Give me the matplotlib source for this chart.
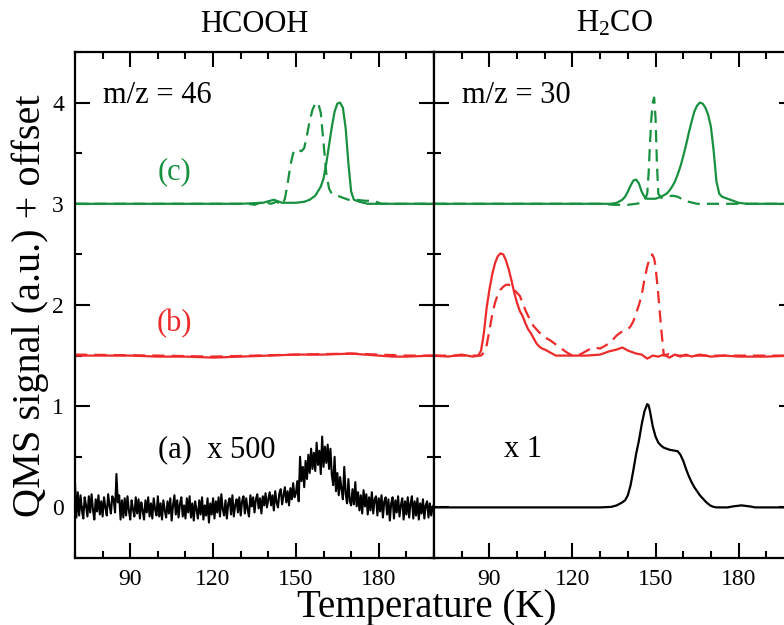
import numpy as np
import matplotlib
matplotlib.use("Agg")
import matplotlib.pyplot as plt
from matplotlib.ticker import MultipleLocator

plt.rcParams['font.family'] = ['Liberation Serif', 'DejaVu Serif']
plt.rcParams['mathtext.fontset'] = 'custom'
plt.rcParams['mathtext.rm'] = 'Liberation Serif'
plt.rcParams['mathtext.it'] = 'Liberation Serif:italic'

GREEN = '#17913f'
RED = '#ee2a2a'
BLACK = '#000000'

# ---------------- HCOOH panel (m/z = 46) ----------------
# (a) x500, sampled every 0.5 K from 70 to 200 K
hcooh_a_T0, hcooh_a_dT = 70.0, 0.5
hcooh_a = [
    0.24, -0.10, 0.15, -0.08, 0.12, -0.03, -0.11, 0.10, 0.02, -0.09, 0.11, -0.05, 0.13, -0.02, -0.12, 0.08, -0.04, 0.12, -0.07, 0.06,
    -0.09, 0.10, 0.00, -0.08, 0.13, 0.02, -0.06, 0.11, 0.08, -0.05, 0.33, 0.05, 0.12, -0.12, 0.07, -0.10, 0.09, -0.08, 0.11, -0.03,
    -0.12, 0.07, -0.02, -0.09, 0.10, -0.06, 0.08, -0.11, 0.05, -0.03, -0.12, 0.07, -0.05, 0.10, -0.09, 0.04, -0.11, 0.09, -0.02, -0.08,
    0.11, -0.09, 0.04, -0.12, 0.07, -0.03, -0.10, 0.06, -0.06, 0.09, -0.13, 0.02, 0.12, -0.07, 0.07, -0.10, 0.03, 0.10, -0.09, 0.02,
    -0.11, 0.09, -0.05, 0.11, -0.10, 0.04, -0.13, 0.06, -0.02, -0.11, 0.07, -0.07, 0.10, -0.12, 0.02, -0.08, 0.09, -0.15, 0.04, -0.07,
    0.09, -0.11, 0.06, -0.05, 0.10, -0.09, 0.13, -0.02, -0.08, 0.07, -0.11, 0.04, 0.09, -0.07, 0.12, -0.09, 0.02, 0.08, -0.05, 0.10,
    -0.08, 0.06, 0.11, -0.06, 0.09, -0.02, -0.09, 0.12, 0.01, 0.10, -0.05, 0.08, 0.13, -0.01, 0.09, -0.06, 0.11, 0.02, 0.14, 0.00,
    0.08, 0.15, 0.02, 0.12, -0.03, 0.16, 0.05, 0.00, 0.14, 0.18, 0.03, 0.12, 0.20, 0.05, 0.16, 0.02, 0.19, 0.08, 0.24, 0.10,
    0.14, 0.26, 0.06, 0.50, 0.26, 0.40, 0.20, 0.46, 0.28, 0.52, 0.34, 0.58, 0.38, 0.54, 0.36, 0.64, 0.42, 0.56, 0.33, 0.70,
    0.40, 0.60, 0.44, 0.62, 0.38, 0.58, 0.32, 0.22, 0.50, 0.16, 0.34, 0.12, 0.30, 0.18, 0.08, 0.40, 0.14, 0.04, 0.28, 0.06,
    0.02, 0.18, 0.03, 0.25, 0.01, 0.15, -0.03, 0.12, -0.06, 0.17, 0.01, 0.13, -0.07, 0.10, -0.03, 0.15, -0.06, 0.08, 0.11, -0.08,
    0.09, -0.04, 0.12, -0.10, 0.06, 0.10, -0.07, 0.08, -0.13, 0.04, 0.10, -0.11, 0.07, -0.05, 0.11, -0.09, 0.02, 0.09, -0.12, 0.06,
    -0.07, 0.10, -0.10, 0.04, 0.11, -0.11, 0.06, -0.08, 0.09, -0.12, 0.04, -0.06, 0.08, -0.11, 0.02, 0.06, -0.10, 0.04, -0.08, 0.00,
    0.03,
]

hcooh_b_solid_T = [70, 90, 100, 110, 120, 130, 140, 150, 160, 170, 175, 180, 185, 190, 200]
hcooh_b_solid = [1.50, 1.50, 1.49, 1.49, 1.48, 1.49, 1.50, 1.51, 1.51, 1.52, 1.51, 1.50, 1.49, 1.49, 1.50]
hcooh_b_dash_T = [70, 100, 120, 150, 170, 190, 200]
hcooh_b_dash = [1.51, 1.50, 1.49, 1.51, 1.52, 1.50, 1.50]

hcooh_c_solid_T = [70, 130, 138, 142, 145, 150, 153, 155, 157, 159, 160, 161, 162, 163, 164, 165, 166, 167,
                   168, 169, 170, 171, 173, 176, 200]
hcooh_c_solid = [3.00, 3.00, 3.01, 3.04, 3.01, 3.01, 3.02, 3.04, 3.08, 3.17, 3.25, 3.40, 3.58, 3.76, 3.91, 3.99,
                 4.00, 3.95, 3.75, 3.40, 3.12, 3.04, 3.02, 3.00, 3.00]
hcooh_c_dash_T = [70, 130, 133, 135, 138, 141, 143, 145, 146, 147, 148, 149, 150, 151, 152, 153, 154, 155, 156,
                  157, 158, 159, 160, 161, 162, 163, 165, 167, 169, 172, 175, 178, 181, 200]
hcooh_c_dash = [3.00, 3.00, 3.00, 2.99, 3.02, 3.00, 3.02, 2.99, 3.05, 3.20, 3.38, 3.50, 3.54, 3.53, 3.52, 3.55,
                3.68, 3.82, 3.93, 3.99, 4.00, 3.90, 3.60, 3.30, 3.15, 3.10, 3.08, 3.06, 3.04, 3.04, 3.03, 3.03,
                3.00, 3.00]

# ---------------- H2CO panel (m/z = 30) ----------------
h2co_a_T = [70, 100, 130, 134, 136, 138, 139, 140, 141, 142, 143, 144, 145, 146, 147, 147.5, 148, 149, 150, 151,
            152, 153, 154, 155, 156, 157, 158, 159, 160, 161, 162, 163, 164, 165, 166, 167, 168, 169, 170, 171,
            172, 176, 178, 181, 184, 186, 200]
h2co_a = [0.0, 0.0, 0.0, 0.005, 0.02, 0.05, 0.07, 0.12, 0.22, 0.37, 0.53, 0.66, 0.82, 0.95, 1.02, 1.01, 0.95,
          0.80, 0.70, 0.64, 0.61, 0.59, 0.58, 0.57, 0.565, 0.56, 0.555, 0.52, 0.46, 0.38, 0.31, 0.25, 0.20, 0.16,
          0.12, 0.09, 0.06, 0.035, 0.015, 0.005, 0.0, 0.0, 0.01, 0.02, 0.01, 0.0, 0.0]

h2co_b_solid_T = [70, 75, 80, 84, 86, 87, 88, 89, 90, 91, 92, 93, 94, 95, 96, 97, 98, 99, 100, 101, 102, 103,
                  104, 105, 106, 107, 108, 109, 110, 112, 114, 120, 125, 130, 133, 136, 138, 140, 143, 145, 147,
                  149, 151, 153, 155, 157, 159, 161, 163, 166, 170, 175, 180, 190, 200]
h2co_b_solid = [1.50, 1.49, 1.51, 1.49, 1.50, 1.55, 1.72, 1.97, 2.15, 2.30, 2.41, 2.48, 2.51, 2.50, 2.44, 2.35,
                2.24, 2.12, 2.02, 1.94, 1.89, 1.82, 1.76, 1.72, 1.67, 1.62, 1.59, 1.57, 1.56, 1.53, 1.50, 1.50,
                1.50, 1.51, 1.54, 1.56, 1.58, 1.55, 1.52, 1.51, 1.47, 1.50, 1.49, 1.51, 1.48, 1.51, 1.49, 1.51,
                1.49, 1.51, 1.49, 1.50, 1.49, 1.49, 1.50]
h2co_b_dash_T = [70, 85, 87, 88, 89, 90, 91, 92, 93, 94, 95, 96, 97, 98, 99, 100, 101, 102, 103, 104, 105, 106,
                 108, 110, 112, 114, 116, 118, 120, 122, 124, 126, 128, 130, 132, 134, 136, 138, 140, 141, 142,
                 143, 144, 145, 146, 147, 148, 148.8, 149.5, 150, 151, 152, 153, 154, 156, 158, 200]
h2co_b_dash = [1.50, 1.50, 1.50, 1.53, 1.60, 1.75, 1.90, 2.02, 2.10, 2.15, 2.18, 2.20, 2.20, 2.19, 2.15, 2.12,
               2.09, 2.02, 1.95, 1.89, 1.84, 1.79, 1.73, 1.68, 1.65, 1.61, 1.57, 1.53, 1.50, 1.50, 1.53, 1.56,
               1.58, 1.57, 1.60, 1.64, 1.70, 1.74, 1.76, 1.79, 1.84, 1.92, 2.00, 2.10, 2.25, 2.38, 2.47, 2.50,
               2.46, 2.38, 2.10, 1.78, 1.50, 1.51, 1.52, 1.50, 1.50]

h2co_c_solid_T = [70, 130, 134, 136, 138, 139, 140, 141, 142, 143, 144, 145, 146, 147, 148, 150, 152, 154, 155,
                  156, 157, 158, 159, 160, 161, 162, 163, 164, 165, 166, 167, 168, 169, 170, 171, 172, 173, 174,
                  176, 178, 180, 183, 200]
h2co_c_solid = [3.00, 3.00, 3.00, 3.01, 3.04, 3.07, 3.12, 3.18, 3.23, 3.24, 3.20, 3.12, 3.07, 3.05, 3.05, 3.05,
                3.07, 3.10, 3.13, 3.17, 3.22, 3.29, 3.37, 3.47, 3.58, 3.70, 3.81, 3.91, 3.97, 4.00, 3.99, 3.95,
                3.88, 3.76, 3.52, 3.22, 3.10, 3.07, 3.05, 3.03, 3.01, 3.00, 3.00]
h2co_c_dash_T = [70, 120, 130, 135, 140, 143, 145, 146, 147, 147.5, 148, 148.5, 149, 149.5, 150, 150.5, 151,
                 152, 154, 156, 158, 160, 162, 165, 170, 200]
h2co_c_dash = [3.00, 3.00, 3.00, 2.99, 2.99, 3.00, 3.01, 3.03, 3.10, 3.30, 3.60, 3.85, 4.00, 4.05, 3.85, 3.40,
               3.10, 3.06, 3.07, 3.08, 3.07, 3.04, 3.02, 3.00, 3.00, 3.00]

xlim = (70, 200)
ylim = (-0.5, 4.5)
xticks_major = [90, 120, 150, 180]
yticks_major = [0, 1, 2, 3, 4]

W, H = 784, 625
fig = plt.figure(figsize=(W / 100, H / 100), dpi=100)

ax_l, ax_r, ax_t, ax_b = 75, 434, 52, 558
pw = ax_r - ax_l
axL = fig.add_axes([ax_l / W, 1 - ax_b / H, pw / W, (ax_b - ax_t) / H])
axR = fig.add_axes([ax_r / W, 1 - ax_b / H, (pw + 1) / W, (ax_b - ax_t) / H])

lw = 1.6
dash = (0, (5.5, 3.2))

# HCOOH
Ta = hcooh_a_T0 + hcooh_a_dT * np.arange(len(hcooh_a))
axL.plot(Ta, hcooh_a, color=BLACK, lw=1.5)
axL.plot(hcooh_b_solid_T, hcooh_b_solid, color=RED, lw=lw)
axL.plot(hcooh_b_dash_T, hcooh_b_dash, color=RED, lw=lw, ls=dash)
axL.plot(hcooh_c_dash_T, hcooh_c_dash, color=GREEN, lw=lw, ls=dash)
axL.plot(hcooh_c_solid_T, hcooh_c_solid, color=GREEN, lw=lw)

# H2CO
axR.plot(h2co_a_T, h2co_a, color=BLACK, lw=lw)
axR.plot(h2co_b_solid_T, h2co_b_solid, color=RED, lw=lw)
axR.plot(h2co_b_dash_T, h2co_b_dash, color=RED, lw=lw, ls=dash)
axR.plot(h2co_c_dash_T, h2co_c_dash, color=GREEN, lw=lw, ls=dash)
axR.plot(h2co_c_solid_T, h2co_c_solid, color=GREEN, lw=lw)

for i, ax in enumerate((axL, axR)):
    ax.set_xlim(*xlim)
    ax.set_ylim(*ylim)
    ax.set_xticks(xticks_major)
    ax.xaxis.set_minor_locator(MultipleLocator(10))
    ax.set_yticks(yticks_major)
    ax.yaxis.set_minor_locator(MultipleLocator(0.5))
    ax.tick_params(which='both', direction='in', top=True, right=True, width=1.5,
                   labelsize=17, pad=8)
    ax.tick_params(which='major', length=10.5)
    ax.tick_params(which='minor', length=5)
    for s in ax.spines.values():
        s.set_linewidth(1.6)
    if i == 1:
        ax.tick_params(labelleft=False)

axL.text(80, 4.0, 'm/z = 46', fontsize=22, ha='left', va='baseline')
axR.text(80, 4.0, 'm/z = 30', fontsize=22, ha='left', va='baseline')
axL.text(106, 3.24, '(c)', fontsize=22, color=GREEN, ha='center', va='baseline')
axL.text(106, 1.74, '(b)', fontsize=22, color=RED, ha='center', va='baseline')
axL.text(100, 0.50, '(a)  x 500', fontsize=22, ha='left', va='baseline')
axR.text(95.2, 0.50, 'x 1', fontsize=22, ha='left', va='baseline')

axL.text(0.5, 1 + 20 / (ax_b - ax_t), 'HCOOH', transform=axL.transAxes, fontsize=22,
         ha='center', va='baseline')
axR.text(0.5, 1 + 20 / (ax_b - ax_t), r'H$_2$CO', transform=axR.transAxes, fontsize=22,
         ha='center', va='baseline')

fig.text(427 / W, 1 - 607 / H, 'Temperature (K)', fontsize=28, ha='center', va='center')
fig.text(30 / W, 1 - 306 / H, 'QMS signal (a.u.) + offset', fontsize=29, rotation=90,
         ha='center', va='center')

fig.savefig('out.png', dpi=100)
